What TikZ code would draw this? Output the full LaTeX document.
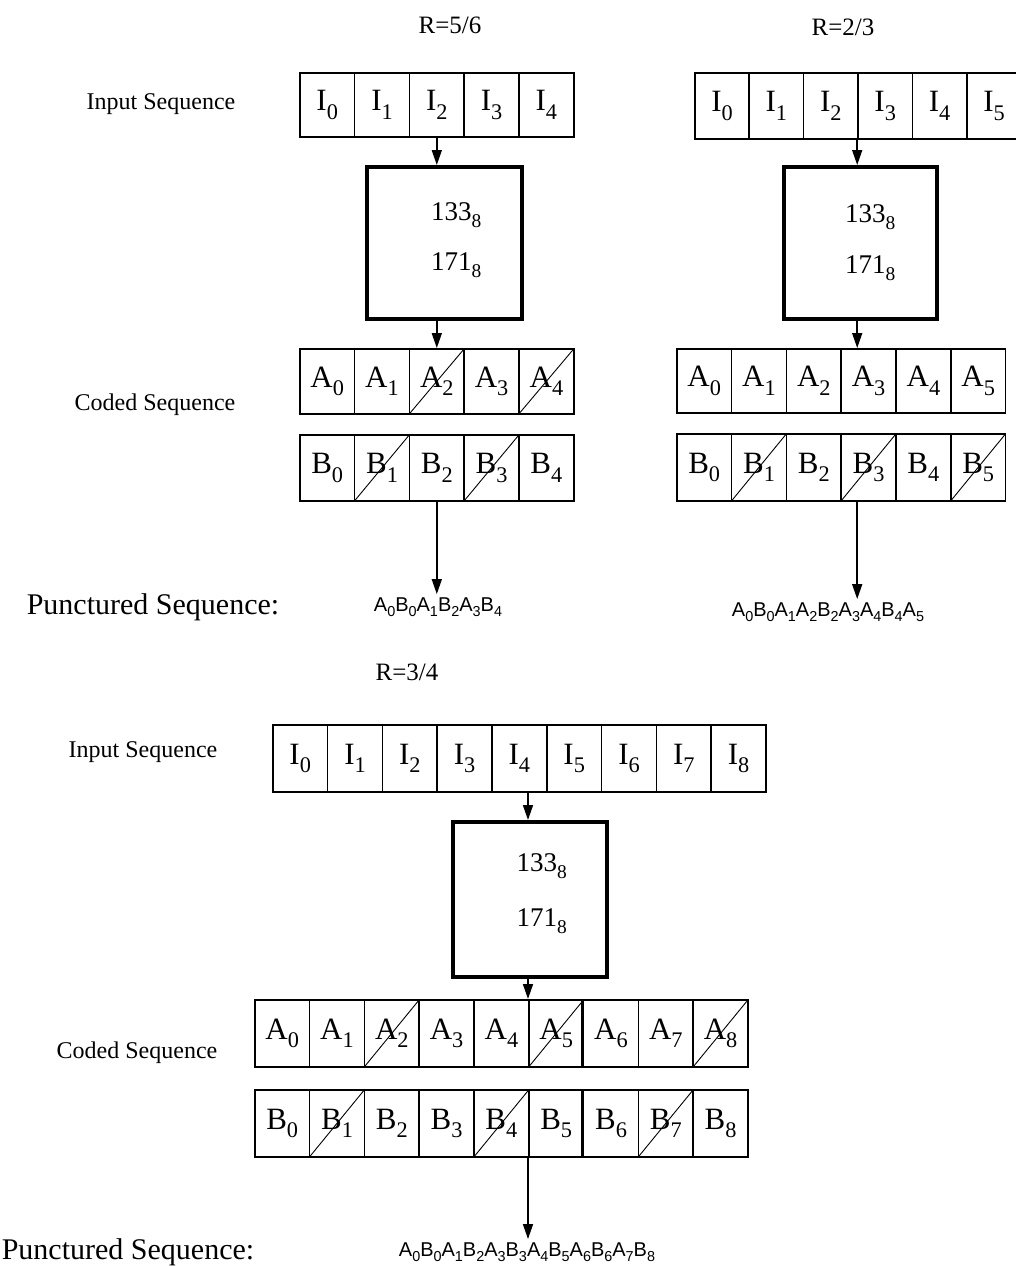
\documentclass[tikz,border=0pt]{standalone}
\usepackage{fontspec}
\usepackage{graphicx}
\setmainfont{Liberation Serif}
\newfontfamily\seqfont[LetterSpace=6]{Liberation Sans}
\usetikzlibrary{arrows.meta}
% lowered, reduced index after a letter or number
\newcommand\sbs[1]{\raisebox{-0.28em}{\scalebox{0.72}{#1}}}
% a row of labelled cells: prefix, letter, x0, y0, cell width, height, index/style list
\newcommand\cellrow[7]{%
  \foreach \n/\s in {#7} {%
    \node[cell, \s, minimum width=#5pt, minimum height=#6pt] (#1\n)
      at ({#3+\n*#5}, #4) {#2\sbs{\n}};
  }}
\begin{document}
\begin{tikzpicture}[x=1pt,y=-1pt,
  plain/.style={},
  cell/.style={draw, line width=1.6pt, anchor=north west, inner sep=0pt,
    font=\fontsize{31}{36}\selectfont},
  struck/.style={path picture={\draw[line width=0.9pt]
    (path picture bounding box.south west) -- (path picture bounding box.north east);}},
  enc/.style={draw, line width=3.5pt, anchor=north west, inner sep=0pt,
    minimum width=155pt, minimum height=152pt},
  gen/.style={font=\fontsize{27}{32}\selectfont, inner sep=0pt},
  flow/.style={line width=1.6pt, -{Triangle[length=15pt,width=10pt]}},
  title/.style={font=\fontsize{25}{30}\selectfont},
  lbl/.style={font=\fontsize{24}{28}\selectfont},
  plbl/.style={font=\fontsize{30}{34}\selectfont},
  seq/.style={font=\seqfont\fontsize{20}{24}\selectfont, inner sep=3pt},
  sep/.style={line width=2.8pt}
]
\useasboundingbox (0,0) rectangle (1016,1266);
\fill[white] (0,0) rectangle (1016,1266);

% ---------- rate 5/6 ----------
\node[title] (tlR) at (450,25) {R=5/6};
\node[lbl] (tlin) at (161,104) {Input Sequence};
\cellrow{tlI}{I}{299}{72}{54.8}{64}{0/plain,1/plain,2/plain,3/plain,4/plain}
\node[enc] (tlenc) at (365,165) {};
\node[gen] (tlg1) at ([xshift=12pt,yshift=-50pt]tlenc.north) {133\sbs{8}};
\node[gen] (tlg2) at ([xshift=12pt,yshift=-100pt]tlenc.north) {171\sbs{8}};
\cellrow{tlA}{A}{299}{348}{54.8}{65}{0/plain,1/plain,2/struck,3/plain,4/struck}
\cellrow{tlB}{B}{299}{434}{54.8}{66}{0/plain,1/struck,2/plain,3/struck,4/plain}
\node[lbl] (tlcoded) at (155,405) {Coded Sequence};
\node[plbl] (tlpunct) at (153,607) {Punctured Sequence:};
\node[seq] (tlseq) at (438,607) {A\sbs{0}B\sbs{0}A\sbs{1}B\sbs{2}A\sbs{3}B\sbs{4}};
\draw[flow] (tlI2.south) -- (tlI2.south |- tlenc.north);
\draw[flow] (tlI2.south |- tlenc.south) -- (tlI2.south |- tlA0.north);
\draw[flow] (tlB2.south) -- (tlB2.south |- tlseq.north);

% ---------- rate 2/3 ----------
\node[title] (trR) at (843,27) {R=2/3};
\cellrow{trI}{I}{694}{72}{54.4}{66}{0/plain,1/plain,2/plain,3/plain,4/plain,5/plain}
\node[enc, minimum width=153pt] (trenc) at (782,165) {};
\node[gen] (trg1) at ([xshift=10pt,yshift=-52pt]trenc.north) {133\sbs{8}};
\node[gen] (trg2) at ([xshift=10pt,yshift=-103pt]trenc.north) {171\sbs{8}};
\cellrow{trA}{A}{676}{348}{54.8}{64}{0/plain,1/plain,2/plain,3/plain,4/plain,5/plain}
\cellrow{trB}{B}{676}{433}{54.8}{67}{0/plain,1/struck,2/plain,3/struck,4/plain,5/struck}
\node[seq] (trseq) at (828,612) {A\sbs{0}B\sbs{0}A\sbs{1}A\sbs{2}B\sbs{2}A\sbs{3}A\sbs{4}B\sbs{4}A\sbs{5}};
\draw[flow] (trI3.south west) -- (trI3.south west |- trenc.north);
\draw[flow] (trI3.south west |- trenc.south) -- (trI3.south west |- trA0.north);
\draw[flow] (trI3.south west |- trB0.south) -- (trI3.south west |- trseq.north);

% ---------- rate 3/4 ----------
\node[title] (bR) at (407,672) {R=3/4};
\node[lbl] (bin) at (143,752) {Input Sequence};
\cellrow{bI}{I}{272}{724}{54.8}{67}{0/plain,1/plain,2/plain,3/plain,4/plain,5/plain,6/plain,7/plain,8/plain}
\node[enc, minimum width=154pt, minimum height=155pt] (benc) at (451,820) {};
\node[gen] (bg1) at ([xshift=12pt,yshift=-46pt]benc.north) {133\sbs{8}};
\node[gen] (bg2) at ([xshift=12pt,yshift=-101pt]benc.north) {171\sbs{8}};
\cellrow{bA}{A}{254}{999}{54.8}{67}{0/plain,1/plain,2/struck,3/plain,4/plain,5/struck,6/plain,7/plain,8/struck}
\cellrow{bB}{B}{254}{1089}{54.8}{67}{0/plain,1/struck,2/plain,3/plain,4/struck,5/plain,6/plain,7/struck,8/plain}
\draw[sep] (bA6.north west) -- (bA6.south west);
\draw[sep] (bB6.north west) -- (bB6.south west);
\node[lbl] (bcoded) at (137,1053) {Coded Sequence};
\node[plbl] (bpunct) at (128,1252) {Punctured Sequence:};
\node[seq] (bseq) at (527,1252) {A\sbs{0}B\sbs{0}A\sbs{1}B\sbs{2}A\sbs{3}B\sbs{3}A\sbs{4}B\sbs{5}A\sbs{6}B\sbs{6}A\sbs{7}B\sbs{8}};
\draw[flow] (bA5.north west |- bI0.south) -- (bA5.north west |- benc.north);
\draw[flow] (bA5.north west |- benc.south) -- (bA5.north west);
\draw[flow] (bB5.south west) -- (bB5.south west |- bseq.north);
\end{tikzpicture}
\end{document}
